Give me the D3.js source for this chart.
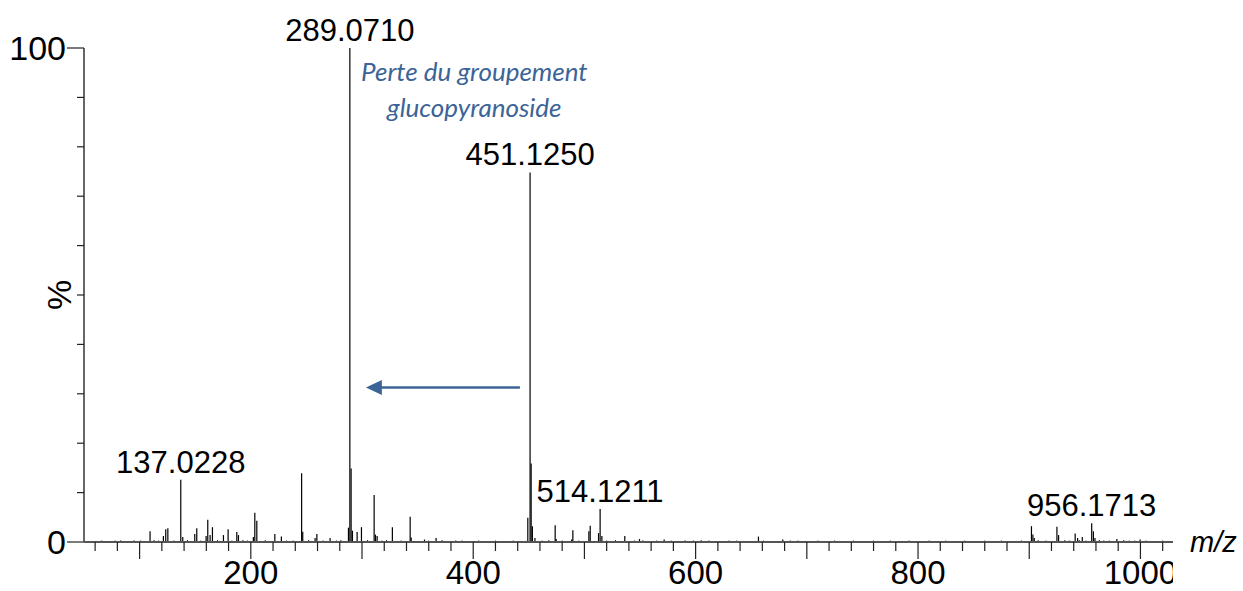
<!DOCTYPE html>
<html>
<head>
<meta charset="utf-8">
<script src="https://cdn.jsdelivr.net/npm/d3@7/dist/d3.min.js"></script>
<style>
  html, body { margin: 0; padding: 0; background: #fff; }
  svg { display: block; }
</style>
</head>
<body>
<svg id="chart" width="1243" height="591"></svg>
<script>
// ---- data ----
const peakMz = [83.0, 95.0, 109.4, 121.4, 123.5, 125.4, 137.0228, 138.8, 149.6, 151.4, 159.8, 161.3, 163.4, 165.5,
  175.4, 179.6, 187.4, 188.9, 202.3, 203.6, 205.4, 221.6, 227.5, 245.7, 246.7, 257.8, 259.4, 271.3,
  287.8, 289.0710, 290.2, 291.4, 295.6, 299.5, 310.9, 312.1, 313.6, 327.3, 343.3, 344.2, 356.2, 366.6, 384.3,
  449.1, 451.1250, 452.1, 453.2, 455.5, 473.7, 474.6, 488.5, 489.6, 504.0, 505.2, 512.7, 514.1211, 515.7,
  536.3, 549.5, 552.5, 571.7, 590.6, 656.5, 678.4,
  902.0, 903.3, 904.5, 924.9, 926.4, 941.3, 943.5, 947.7, 956.1713, 957.7, 959.1, 978.8, 999.7];
const peakPct = [0.3, 0.3, 2.2, 1.2, 2.6, 2.8, 12.6, 1.0, 1.6, 2.8, 1.2, 4.5, 1.4, 3.0,
  1.4, 2.6, 2.0, 1.4, 1.0, 5.9, 4.3, 1.6, 1.1, 13.9, 2.1, 0.8, 1.6, 0.8,
  2.9, 100, 14.9, 2.3, 2.0, 3.0, 9.5, 1.5, 1.2, 3.0, 5.1, 0.9, 0.5, 0.8, 0.3,
  4.9, 74.8, 15.9, 3.2, 0.8, 3.4, 0.6, 0.5, 2.4, 2.2, 3.3, 1.8, 6.7, 1.2,
  1.2, 0.6, 0.3, 0.5, 0.3, 1.1, 0.5,
  3.2, 1.5, 0.8, 3.1, 1.4, 1.7, 0.8, 1.0, 3.8, 2.2, 0.8, 0.6, 0.5];

const noiseMz = [60, 66, 72, 78, 101, 105, 113, 117, 131, 143, 155, 170, 183, 193, 197, 213, 232, 238, 252, 265, 277, 281,
  305, 318, 322, 335, 360, 372, 378, 390, 397, 405, 412, 420, 428, 436, 441, 462, 468, 480, 484, 495, 520, 528,
  545, 560, 565, 578, 584, 598, 605, 612, 620, 630, 637, 645, 661, 670, 685, 692, 700, 710, 718, 725, 733, 742,
  750, 760, 768, 775, 785, 792, 800, 810, 818, 825, 835, 842, 850, 860, 868, 875, 885, 893, 908, 915, 932, 936,
  945, 951, 963, 967, 972, 985, 990, 995, 1005, 1012, 1020, 1026];
const noisePct = [0.2, 0.3, 0.2, 0.3, 0.3, 0.2, 0.4, 0.3, 0.3, 0.4, 0.3, 0.4, 0.3, 0.4, 0.3, 0.4, 0.3, 0.3, 0.4, 0.3, 0.3, 0.4,
  0.4, 0.3, 0.4, 0.3, 0.3, 0.4, 0.2, 0.3, 0.2, 0.3, 0.2, 0.3, 0.2, 0.3, 0.2, 0.3, 0.4, 0.3, 0.2, 0.3, 0.3, 0.4,
  0.3, 0.2, 0.3, 0.3, 0.2, 0.3, 0.4, 0.3, 0.2, 0.3, 0.3, 0.2, 0.3, 0.2, 0.3, 0.3, 0.2, 0.3, 0.2, 0.3, 0.2, 0.3,
  0.2, 0.3, 0.2, 0.3, 0.2, 0.3, 0.2, 0.3, 0.2, 0.3, 0.2, 0.3, 0.2, 0.3, 0.2, 0.3, 0.2, 0.3, 0.4, 0.3, 0.4, 0.3,
  0.4, 0.3, 0.4, 0.3, 0.3, 0.4, 0.3, 0.3, 0.3, 0.2, 0.3, 0.2];

const labelMz = [137.0228, 289.0710, 451.1250, 514.1211, 956.1713];
const labelPct = [12.6, 100, 74.8, 6.7, 3.8];
const labelText = ["137.0228", "289.0710", "451.1250", "514.1211", "956.1713"];

const xTickLabels = [200, 400, 600, 800, 1000];
const yTickLabels = [0, 100];
const yAxisTitle = "%";
const xAxisTitle = "m/z";
const annotationLines = ["Perte du groupement", "glucopyranoside"];
const annotationMz = 401;
const annotationPct = [93.4, 86.0];
const arrowFromMz = 442, arrowToMz = 303.5, arrowPct = 31.3;

// ---- scales ----
const svg = d3.select("#chart");
const x = d3.scaleLinear().domain([50, 1030]).range([84, 1173.8]);
const y = d3.scaleLinear().domain([0, 100]).range([542, 48]);

const labelFont = "'Liberation Sans', Arial, sans-serif";

svg.append("defs").append("clipPath").attr("id", "xclip")
  .append("rect").attr("x", 0).attr("y", 0).attr("width", 1173).attr("height", 591);

// ---- noise + peaks ----
const noise = noiseMz.map((m, i) => ({ m, p: noisePct[i] }));
const peaks = peakMz.map((m, i) => ({ m, p: peakPct[i] }));

svg.append("g").selectAll("line").data(noise).join("line")
  .attr("x1", d => x(d.m)).attr("x2", d => x(d.m))
  .attr("y1", y(0)).attr("y2", d => y(d.p))
  .attr("stroke", "#222").attr("stroke-width", 1);

svg.append("g").selectAll("line").data(peaks).join("line")
  .attr("x1", d => x(d.m)).attr("x2", d => x(d.m))
  .attr("y1", y(0)).attr("y2", d => y(d.p))
  .attr("stroke", "#000").attr("stroke-width", 1.2);

// ---- x axis ----
const gx = svg.append("g").attr("clip-path", "url(#xclip)");
gx.append("line").attr("x1", x(50)).attr("x2", x(1030)).attr("y1", y(0)).attr("y2", y(0))
  .attr("stroke", "#555").attr("stroke-width", 2);
const minorX = d3.range(60, 1030, 20).filter(v => v % 100 !== 0);
const majorX = d3.range(100, 1030, 100);
gx.selectAll(".xmin").data(minorX).join("line").attr("class", "xmin")
  .attr("x1", d => x(d)).attr("x2", d => x(d)).attr("y1", y(0)).attr("y2", y(0) + 9)
  .attr("stroke", "#222").attr("stroke-width", 1.2);
gx.selectAll(".xmaj").data(majorX).join("line").attr("class", "xmaj")
  .attr("x1", d => x(d)).attr("x2", d => x(d)).attr("y1", y(0)).attr("y2", y(0) + 17)
  .attr("stroke", "#222").attr("stroke-width", 1.2);
gx.selectAll(".xlab").data(xTickLabels).join("text").attr("class", "xlab")
  .attr("x", d => x(d)).attr("y", 584)
  .attr("text-anchor", "middle").attr("font-family", labelFont).attr("font-size", 33)
  .attr("fill", "#000").text(d => d);

// ---- y axis ----
const gy = svg.append("g");
gy.append("line").attr("x1", x(50)).attr("x2", x(50)).attr("y1", y(0)).attr("y2", y(100))
  .attr("stroke", "#666").attr("stroke-width", 2);
gy.selectAll(".ytick").data(d3.range(0, 101, 10)).join("line").attr("class", "ytick")
  .attr("x1", d => (d === 0 || d === 100) ? x(50) - 17 : x(50) - 7).attr("x2", x(50))
  .attr("y1", d => y(d)).attr("y2", d => y(d))
  .attr("stroke", "#222").attr("stroke-width", 1.2);
gy.selectAll(".ylab").data(yTickLabels).join("text").attr("class", "ylab")
  .attr("x", x(50) - 18).attr("y", d => y(d)).attr("dy", "0.36em")
  .attr("text-anchor", "end").attr("font-family", labelFont).attr("font-size", 34)
  .attr("fill", "#000").text(d => d);
svg.append("text").attr("transform", `translate(71,${y(50)}) rotate(-90)`)
  .attr("text-anchor", "middle").attr("font-family", labelFont).attr("font-size", 34)
  .attr("fill", "#000").text(yAxisTitle);

svg.append("text").attr("x", 1190).attr("y", 552)
  .attr("font-family", labelFont).attr("font-style", "italic").attr("font-size", 29)
  .attr("fill", "#000").text(xAxisTitle);

// ---- peak labels ----
svg.selectAll(".plab").data(labelMz).join("text").attr("class", "plab")
  .attr("x", d => x(d)).attr("y", (d, i) => y(labelPct[i]) - 7)
  .attr("text-anchor", "middle").attr("font-family", labelFont).attr("font-size", 31)
  .attr("fill", "#000").text((d, i) => labelText[i]);

// ---- annotation ----
const blue = "#3C6497";
svg.selectAll(".ann").data(annotationLines).join("text").attr("class", "ann")
  .attr("x", x(annotationMz)).attr("y", (d, i) => y(annotationPct[i]))
  .attr("text-anchor", "middle").attr("font-family", "Lato, 'Open Sans', sans-serif")
  .attr("font-style", "italic").attr("font-size", 26).attr("fill", blue).text(d => d);

svg.append("line").attr("x1", x(arrowFromMz)).attr("x2", x(arrowToMz) + 14)
  .attr("y1", y(arrowPct)).attr("y2", y(arrowPct))
  .attr("stroke", blue).attr("stroke-width", 2.5);
const tipX = x(arrowToMz), tipY = y(arrowPct);
svg.append("path")
  .attr("d", `M${tipX},${tipY} L${tipX + 16},${tipY - 7.5} L${tipX + 16},${tipY + 7.5} Z`)
  .attr("fill", blue);
</script>
</body>
</html>
